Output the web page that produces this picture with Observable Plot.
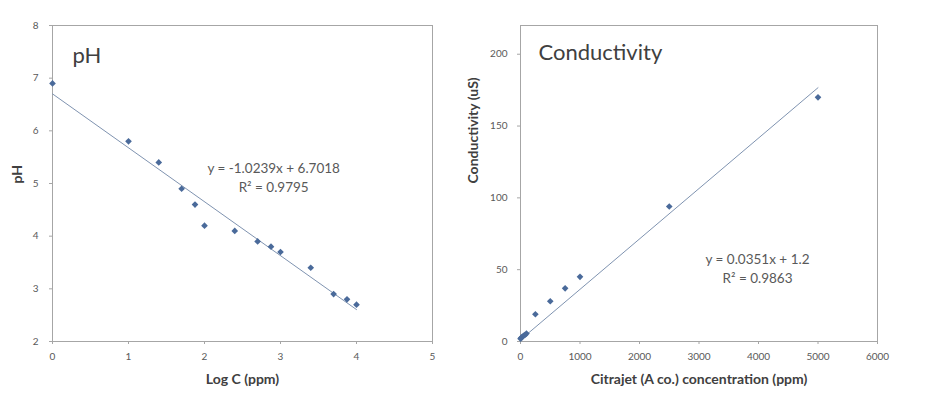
<!DOCTYPE html>
<html><head><meta charset="utf-8">
<script src="https://cdn.jsdelivr.net/npm/d3@7"></script>
<script src="https://cdn.jsdelivr.net/npm/@observablehq/plot@0.6"></script>
<style>
html,body{margin:0;padding:0;background:#fff;}
#wrap{display:flex;width:926px;height:404px;}
</style></head><body><div id="wrap"></div>
<script>
// pH vs Log C
const logC = [0, 1, 1.398, 1.699, 1.875, 2, 2.398, 2.699, 2.875, 3, 3.398, 3.699, 3.875, 4];
const pH   = [6.9, 5.8, 5.4, 4.9, 4.6, 4.2, 4.1, 3.9, 3.8, 3.7, 3.4, 2.9, 2.8, 2.7];
// Conductivity vs concentration
const conc = [1, 10, 25, 50, 75, 100, 250, 500, 750, 1000, 2500, 5000];
const cond = [2, 2.5, 3, 4, 4.5, 5.5, 19, 28, 37, 45, 94, 170];
// Trendline equations as printed on the chart
const pHFit = {slope: -1.0239, intercept: 6.7018, r2: "0.9795"};
const condFit = {slope: 0.0351, intercept: 1.2, r2: "0.9863"};
// Tick values
const pHXTicks = [0, 1, 2, 3, 4, 5];
const pHYTicks = [2, 3, 4, 5, 6, 7, 8];
const condXTicks = [0, 1000, 2000, 3000, 4000, 5000, 6000];
const condYTicks = [0, 50, 100, 150, 200];
// Texts
const pHTitle = "pH", pHXLabel = "Log C (ppm)", pHYLabel = "pH";
const condTitle = "Conductivity", condXLabel = "Citrajet (A co.) concentration (ppm)", condYLabel = "Conductivity (uS)";

const FONT = "Lato, 'Open Sans', sans-serif";
const AXIS = "#a6a6a6", TXT = "#595959", DARK = "#404040";
const DOT = "#4a6a9a", TREND = "#7f93b0";

function eqText(f) {
  const sign = f.intercept < 0 ? "- " : "+ ";
  return `y = ${f.slope}x ${sign}${Math.abs(f.intercept)}\nR² = ${f.r2}`;
}

function chart(o) {
  const pts = o.xs.map((x, i) => ({x, y: o.ys[i]}));
  const ext = d3.extent(o.xs);
  const fit = ext.map(x => ({x, y: o.fit.slope * x + o.fit.intercept}));
  const fmt = d => String(d);
  return Plot.plot({
    width: o.width, height: 404,
    marginLeft: o.ml, marginRight: o.mr, marginTop: 25, marginBottom: 63,
    x: {domain: o.xd}, y: {domain: o.yd},
    style: {fontFamily: FONT, fontSize: "10px", color: TXT, background: "white"},
    marks: [
      Plot.frame({stroke: AXIS}),
      Plot.axisX(o.xt, {tickSize: 3, tickPadding: 8, stroke: AXIS, fill: TXT, label: null, tickFormat: fmt}),
      Plot.axisY(o.yt, {tickSize: 3, tickPadding: o.ytp, stroke: AXIS, fill: TXT, label: null, tickFormat: fmt}),
      Plot.line(fit, {x: "x", y: "y", stroke: TREND, strokeWidth: 1}),
      Plot.dot(pts, {x: "x", y: "y", symbol: "diamond2", r: 3, fill: DOT}),
      Plot.text([o.title], {frameAnchor: "top-left", dx: o.tdx, dy: o.tdy, textAnchor: "start", fontSize: 22, fill: DARK, lineAnchor: "middle"}),
      Plot.text([eqText(o.fit)], {x: o.ex, y: o.ey, fontSize: 13.5, fill: TXT, lineHeight: 1.4, lineAnchor: "middle"}),
      Plot.text([o.xl], {frameAnchor: "bottom", dy: 38, fontWeight: "bold", fontSize: 14, fill: DARK, lineAnchor: "middle"}),
      Plot.text([o.yl], {frameAnchor: "left", dx: o.ydx, rotate: -90, fontWeight: "bold", fontSize: 14, fill: DARK, lineAnchor: "middle"})
    ]
  });
}

const wrap = document.getElementById("wrap");
wrap.append(chart({
  xs: logC, ys: pH, fit: pHFit, width: 460, ml: 52, mr: 28,
  xd: [0, 5], yd: [2, 8], xt: pHXTicks, yt: pHYTicks, ytp: 11,
  title: pHTitle, tdx: 20, tdy: 30, ex: 2.91, ey: 5.14,
  xl: pHXLabel, yl: pHYLabel, ydx: -35
}));
wrap.append(chart({
  xs: conc, ys: cond, fit: condFit, width: 466, ml: 60, mr: 49,
  xd: [0, 6000], yd: [0, 220], xt: condXTicks, yt: condYTicks, ytp: 10,
  title: condTitle, tdx: 18, tdy: 27, ex: 3983, ey: 51.6,
  xl: condXLabel, yl: condYLabel, ydx: -47
}));
</script></body></html>
